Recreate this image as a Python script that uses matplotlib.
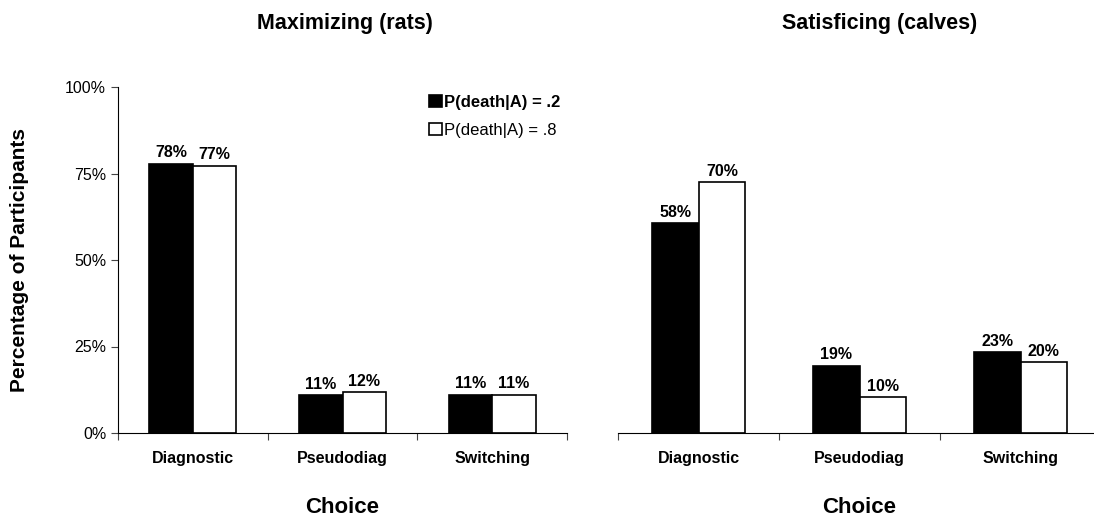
import numpy as np
import matplotlib.pyplot as plt

plt.rcParams['font.family'] = ['Liberation Sans', 'DejaVu Sans']

# data
choices = ['Diagnostic', 'Pseudodiag', 'Switching']
rats_low = [77.8, 10.9, 11.0]     # P(death|A) = .2
rats_high = [77.2, 11.8, 11.0]    # P(death|A) = .8
calves_low = [60.6, 19.4, 23.4]
calves_high = [72.5, 10.4, 20.5]
rats_low_lab = ['78%', '11%', '11%']
rats_high_lab = ['77%', '12%', '11%']
calves_low_lab = ['58%', '19%', '23%']
calves_high_lab = ['70%', '10%', '20%']
titles = ['Maximizing (rats)', 'Satisficing (calves)']
legend_labels = ['P(death|A) = .2', 'P(death|A) = .8']

W, H = 1094, 516
fig = plt.figure(figsize=(W / 100, H / 100), dpi=100)

def px_axes(x0, x1, y0, y1):
    # pixel box -> figure fraction
    return fig.add_axes([x0 / W, 1 - y1 / H, (x1 - x0) / W, (y1 - y0) / H])

ax1 = px_axes(118, 567, 87, 433)
ax2 = px_axes(618, 1101, 87, 433)

width = 0.29
x = np.arange(3)

def panel(ax, low, high, low_lab, high_lab):
    b1 = ax.bar(x - width / 2, low, width, color='black', edgecolor='black', linewidth=1.2)
    b2 = ax.bar(x + width / 2, high, width, color='white', edgecolor='black', linewidth=1.2)
    for bars, labs in [(b1, low_lab), (b2, high_lab)]:
        for b, lab in zip(bars, labs):
            ax.annotate(lab, (b.get_x() + b.get_width() / 2, b.get_height()),
                        xytext=(0, 2.5), textcoords='offset points',
                        ha='center', va='bottom', fontsize=11.5, fontweight='bold')
    ax.set_xlim(-0.5, 2.5)
    ax.set_ylim(0, 100)
    ax.set_xticks([-0.5, 0.5, 1.5, 2.5])
    ax.set_xticklabels([])
    ax.set_xticks(x, minor=True)
    ax.set_xticklabels(choices, minor=True, fontsize=11.5, fontweight='bold')
    ax.tick_params(axis='x', which='major', direction='out', length=5, width=0.8, color='#444444')
    ax.tick_params(axis='x', which='minor', length=0, pad=13)
    ax.spines['top'].set_visible(False)
    ax.spines['right'].set_visible(False)
    ax.set_xlabel('Choice', fontsize=16, fontweight='bold', labelpad=22)
    return b1, b2

b1, b2 = panel(ax1, rats_low, rats_high, rats_low_lab, rats_high_lab)
panel(ax2, calves_low, calves_high, calves_low_lab, calves_high_lab)

ax1.set_yticks([0, 25, 50, 75, 100])
ax1.set_yticklabels(['0%', '25%', '50%', '75%', '100%'], fontsize=11.5)
ax1.tick_params(axis='y', direction='out', length=5, width=0.8, color='#444444')
ax1.set_ylabel('Percentage of Participants', fontsize=15, fontweight='bold', labelpad=26)

ax2.spines['left'].set_visible(False)
ax2.set_yticks([])

leg = ax1.legend([b1, b2], legend_labels, loc='upper left', bbox_to_anchor=(0.66, 1.02),
                 frameon=False, fontsize=12, handlelength=0.75, handleheight=0.75,
                 handletextpad=0.15, labelspacing=0.75)
leg.get_texts()[0].set_fontweight('bold')

fig.text(345 / W, 1 - 23 / H, titles[0], ha='center', va='center', fontsize=15.5, fontweight='bold')
fig.text(880 / W, 1 - 23 / H, titles[1], ha='center', va='center', fontsize=15.5, fontweight='bold')

fig.savefig('out.png', dpi=100)
